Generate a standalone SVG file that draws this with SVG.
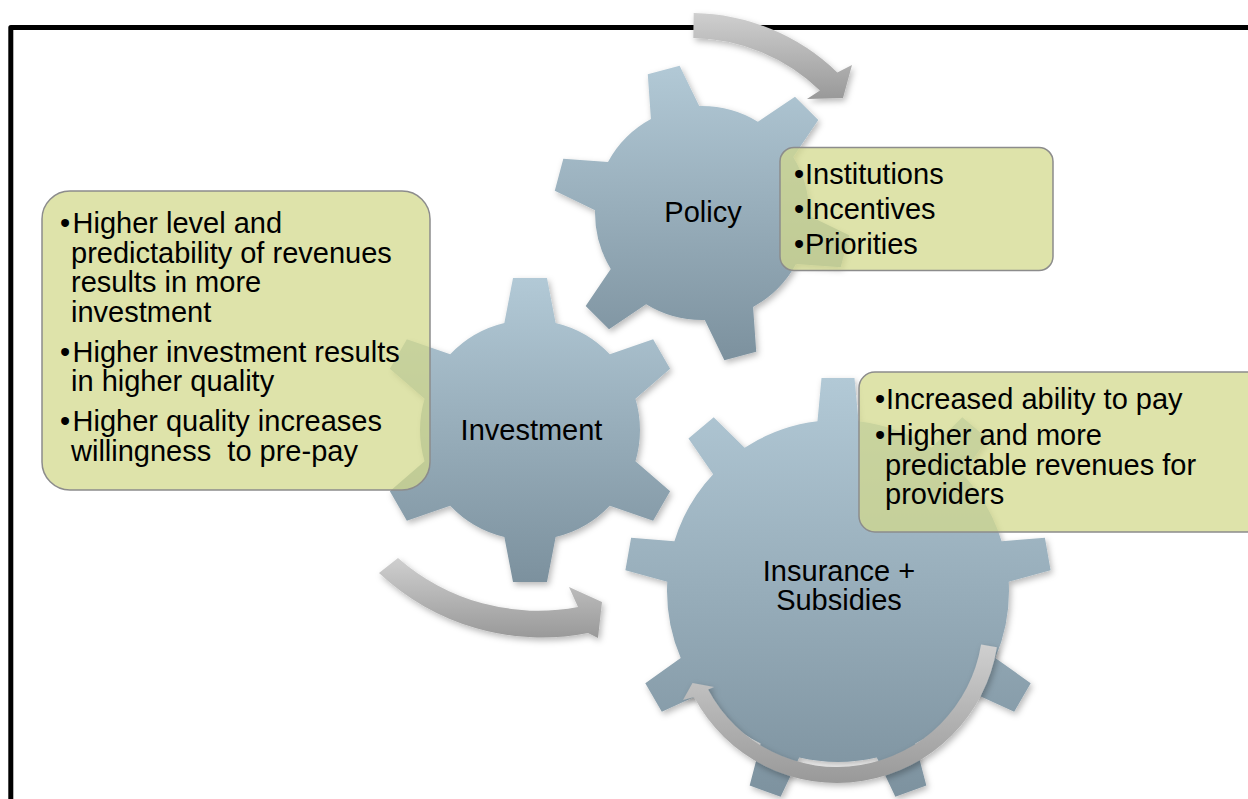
<svg xmlns="http://www.w3.org/2000/svg" width="1248" height="799" viewBox="0 0 1248 799">
  <style>
    .frame { fill: none; stroke: #000; stroke-width: 5; stroke-linejoin: round; }
    .label { font-family: "Liberation Sans", Arial, sans-serif; font-size: 29px; fill: #000; }
    .note { fill: #d2d98c; fill-opacity: 0.74; stroke: #8c8c8c; stroke-width: 1.5; }
    .gear { fill: url(#steel); }
    .arrow { fill: url(#silver); }
  </style>
  <defs>
    <linearGradient id="steel" x1="0" y1="0" x2="0" y2="1">
      <stop offset="0" stop-color="#b2c9d6"/>
      <stop offset="1" stop-color="#7c919e"/>
    </linearGradient>
    <linearGradient id="silver" x1="0" y1="0" x2="0" y2="1">
      <stop offset="0" stop-color="#cfcfcf"/>
      <stop offset="1" stop-color="#999999"/>
    </linearGradient>
    <filter id="shade" x="-15%" y="-15%" width="135%" height="135%">
      <feDropShadow dx="2" dy="3" stdDeviation="3" flood-color="#000" flood-opacity="0.28"/>
    </filter>

    <!-- six-tooth gear, radius 152 -->
    <clipPath id="clipInvestment">
      <circle r="110"/>
      <polygon points="-27,-100 -17,-152 17,-152 27,-100"/>
      <polygon points="-27,-100 -17,-152 17,-152 27,-100" transform="rotate(60)"/>
      <polygon points="-27,-100 -17,-152 17,-152 27,-100" transform="rotate(120)"/>
      <polygon points="-27,-100 -17,-152 17,-152 27,-100" transform="rotate(180)"/>
      <polygon points="-27,-100 -17,-152 17,-152 27,-100" transform="rotate(240)"/>
      <polygon points="-27,-100 -17,-152 17,-152 27,-100" transform="rotate(300)"/>
    </clipPath>
    <!-- six-tooth gear, slightly smaller and turned -->
    <clipPath id="clipPolicy">
      <circle r="107"/>
      <polygon points="-26.3,-97.4 -16.5,-148 16.5,-148 26.3,-97.4" transform="rotate(-15)"/>
      <polygon points="-26.3,-97.4 -16.5,-148 16.5,-148 26.3,-97.4" transform="rotate(45)"/>
      <polygon points="-26.3,-97.4 -16.5,-148 16.5,-148 26.3,-97.4" transform="rotate(105)"/>
      <polygon points="-26.3,-97.4 -16.5,-148 16.5,-148 26.3,-97.4" transform="rotate(165)"/>
      <polygon points="-26.3,-97.4 -16.5,-148 16.5,-148 26.3,-97.4" transform="rotate(225)"/>
      <polygon points="-26.3,-97.4 -16.5,-148 16.5,-148 26.3,-97.4" transform="rotate(285)"/>
    </clipPath>
    <!-- nine-tooth gear, radius 213 -->
    <clipPath id="clipInsurance">
      <circle r="171"/>
      <polygon points="-21,-165 -16.5,-213 16.5,-213 21,-165"/>
      <polygon points="-21,-165 -16.5,-213 16.5,-213 21,-165" transform="rotate(40)"/>
      <polygon points="-21,-165 -16.5,-213 16.5,-213 21,-165" transform="rotate(80)"/>
      <polygon points="-21,-165 -16.5,-213 16.5,-213 21,-165" transform="rotate(120)"/>
      <polygon points="-21,-165 -16.5,-213 16.5,-213 21,-165" transform="rotate(160)"/>
      <polygon points="-21,-165 -16.5,-213 16.5,-213 21,-165" transform="rotate(200)"/>
      <polygon points="-21,-165 -16.5,-213 16.5,-213 21,-165" transform="rotate(240)"/>
      <polygon points="-21,-165 -16.5,-213 16.5,-213 21,-165" transform="rotate(280)"/>
      <polygon points="-21,-165 -16.5,-213 16.5,-213 21,-165" transform="rotate(320)"/>
    </clipPath>
  </defs>

  <rect width="1248" height="799" fill="#fff"/>

  <!-- slide frame -->
  <path class="frame" d="M10.8,812 V27.5 H1265"/>

  <!-- gears -->
  <g id="gear-insurance">
    <g transform="translate(838 591)" filter="url(#shade)">
      <rect class="gear" x="-213" y="-213" width="426" height="426" clip-path="url(#clipInsurance)"/>
    </g>
    <text class="label" text-anchor="middle" x="839" y="580.5">Insurance +</text>
    <text class="label" text-anchor="middle" x="839" y="610">Subsidies</text>
  </g>

  <g id="gear-investment">
    <g transform="translate(530 430)" filter="url(#shade)">
      <rect class="gear" x="-152" y="-152" width="304" height="304" clip-path="url(#clipInvestment)"/>
    </g>
    <text class="label" text-anchor="middle" x="531.5" y="440">Investment</text>
  </g>

  <g id="gear-policy">
    <g transform="translate(702 213)" filter="url(#shade)">
      <rect class="gear" x="-148" y="-148" width="296" height="296" clip-path="url(#clipPolicy)"/>
    </g>
    <text class="label" text-anchor="middle" x="703" y="221.5">Policy</text>
  </g>

  <!-- rotation arrows -->
  <g id="connectors" filter="url(#shade)">
    <path class="arrow" d="M693.7,13 A212,212 0 0 1 837.3,72.5 L852,65 L843,98 L807,99 L819.9,90.5 A187,187 0 0 0 693.3,38 Z"/>
    <path class="arrow" d="M379,573 A238,238 0 0 0 588,633 L598,638 L602,602 L569,587 L578,607 A212,212 0 0 1 398,558 Z"/>
    <path class="arrow" d="M996.9,647.2 A162,162 0 0 1 694,697.1 L683,700 L692.5,683 L714,687 L708.1,689.5 A146,146 0 0 0 981.1,644.6 Z"/>
  </g>

  <!-- callout boxes -->
  <g id="note-investment">
    <rect class="note" x="42" y="191" width="388" height="299" rx="28"/>
    <text class="label"><tspan x="60" y="233">•</tspan><tspan x="60" y="361.5">•</tspan><tspan x="60" y="431">•</tspan></text>
    <text class="label" xml:space="preserve"><tspan x="72.5" y="233">Higher level and</tspan><tspan x="71" y="262.5">predictability of revenues</tspan><tspan x="71" y="292">results in more</tspan><tspan x="71" y="321.5">investment</tspan><tspan x="72.5" y="361.5">Higher investment results</tspan><tspan x="71" y="391">in higher quality</tspan><tspan x="72.5" y="431">Higher quality increases</tspan><tspan x="71" y="460.5">willingness  to pre-pay</tspan></text>
  </g>

  <g id="note-policy">
    <rect class="note" x="780" y="147.5" width="273" height="123" rx="14"/>
    <text class="label"><tspan x="794" y="183.5">•</tspan><tspan x="794" y="218.5">•</tspan><tspan x="794" y="253.5">•</tspan></text>
    <text class="label"><tspan x="805" y="183.5">Institutions</tspan><tspan x="805" y="218.5">Incentives</tspan><tspan x="805" y="253.5">Priorities</tspan></text>
  </g>

  <g id="note-insurance">
    <rect class="note" x="859" y="372" width="420" height="160" rx="16"/>
    <text class="label"><tspan x="875" y="409">•</tspan><tspan x="875" y="445">•</tspan></text>
    <text class="label"><tspan x="886" y="409">Increased ability to pay</tspan><tspan x="886" y="445">Higher and more</tspan><tspan x="885" y="474.5">predictable revenues for</tspan><tspan x="885" y="504">providers</tspan></text>
  </g>
</svg>
